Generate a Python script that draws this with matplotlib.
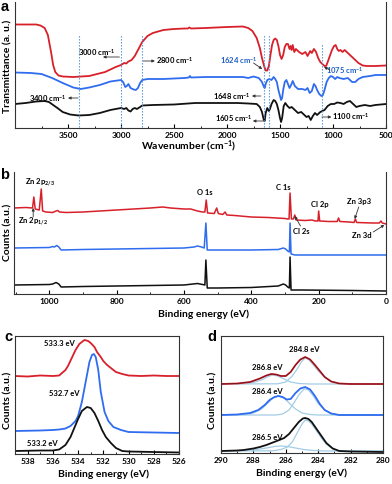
import numpy as np
import matplotlib
matplotlib.use("Agg")
import matplotlib.pyplot as plt
from matplotlib.ticker import MultipleLocator

plt.rcParams['font.family'] = ['Lato', 'DejaVu Sans']
plt.rcParams['font.weight'] = 'bold'
plt.rcParams['mathtext.default'] = 'regular'

# %% colours
RED = '#d8202a'
BLUE = '#2f6cef'
BLACK = '#111111'
DOT = '#4f8fd6'
COMP = '#a3cde5'

# %% (a) FTIR, transmittance in a.u.
ir_wn_red = [4000, 3800, 3760, 3720, 3690, 3660, 3640, 3620, 3590, 3550, 3450, 3300, 3150, 3050,
             3000, 2970, 2950, 2930, 2900, 2870, 2840, 2800, 2750, 2700, 2600, 2500, 2400, 2370,
             2355, 2340, 2200, 2000, 1850, 1800, 1760, 1720, 1690, 1670, 1650, 1635, 1620, 1605,
             1590, 1575, 1560, 1545, 1530, 1515, 1500, 1485, 1470, 1455, 1440, 1425, 1410, 1400,
             1390, 1380, 1365, 1350, 1320, 1290, 1260, 1240, 1215, 1200, 1180, 1160, 1140, 1120,
             1100, 1080, 1065, 1050, 1030, 1010, 990, 975, 960, 945, 930, 910, 890, 870, 840,
             800, 760, 720, 680, 600, 500]
ir_red = [103.5, 103.5, 102.5, 100, 93, 76, 63, 56, 52.5, 51.5, 51, 52, 56, 61,
          63, 65, 64.5, 66.5, 68, 72, 78, 86, 92, 95, 98, 99, 99.5, 99.5,
          100.5, 99.5, 100, 101, 101.5, 100, 97, 90, 80, 70, 62, 57.5, 57.5, 62,
          73, 83, 88, 89.5, 88, 82, 73, 69, 73, 81, 84, 84, 79, 82,
          78, 83, 76, 79, 76, 74, 76, 72, 77, 75, 79, 76, 70, 66,
          64, 62, 62, 66, 72, 78, 82, 83, 79, 77, 78, 76, 78, 76, 73,
          69, 65, 62.5, 62, 62, 62.5]

ir_wn_blue = [4000, 3850, 3750, 3650, 3550, 3450, 3380, 3300, 3200, 3100, 3000, 2980, 2960, 2945,
              2930, 2910, 2880, 2860, 2840, 2820, 2800, 2750, 2600, 2400, 2360, 2350, 2340, 2200,
              2000, 1850, 1800, 1750, 1700, 1670, 1655, 1645, 1635, 1620, 1600, 1580, 1560, 1545,
              1530, 1515, 1500, 1490, 1480, 1470, 1455, 1440, 1425, 1410, 1395, 1380, 1360, 1330,
              1290, 1260, 1240, 1220, 1200, 1180, 1165, 1150, 1130, 1110, 1095, 1080, 1060, 1040,
              1020, 1000, 980, 960, 940, 900, 860, 820, 790, 760, 720, 650, 600, 500]
ir_blue = [55.5, 55, 54, 50, 45, 40.5, 39, 40.5, 43, 46.5, 48, 46, 41, 42,
           44, 40, 38.5, 38, 40, 45, 48, 49, 49, 50, 50.5, 52, 50.5, 51,
           51, 51, 50, 51.5, 50, 46, 42, 40, 44, 48, 49, 48, 51, 49,
           46, 38, 32, 28, 30, 38, 46, 48, 44, 40, 43, 47, 42, 39,
           39, 38, 40, 35, 37, 44, 42, 38, 34, 32, 33, 38, 46, 50,
           52, 51, 49, 51, 50, 49, 50, 46, 46, 49, 51, 52, 53, 53]

ir_wn_black = [4000, 3900, 3800, 3720, 3680, 3640, 3600, 3550, 3480, 3400, 3300, 3200, 3100, 3000,
               2970, 2950, 2930, 2910, 2890, 2870, 2850, 2820, 2800, 2700, 2500, 2300, 2100, 1900,
               1800, 1720, 1690, 1670, 1655, 1645, 1635, 1620, 1605, 1595, 1580, 1560, 1545, 1530,
               1515, 1500, 1490, 1480, 1465, 1450, 1430, 1410, 1390, 1360, 1330, 1300, 1280, 1250,
               1230, 1210, 1190, 1170, 1150, 1120, 1100, 1080, 1050, 1020, 990, 960, 930, 900,
               870, 840, 820, 780, 750, 700, 650, 600, 500]
ir_black = [24, 25, 26.5, 27, 26, 23, 20, 16, 13.5, 12.5, 13, 15, 18, 20,
            19, 20, 17.5, 16.5, 19, 20, 19, 21, 22.5, 23, 23.5, 25, 25, 25,
            24.5, 24, 21, 16, 9, 7, 15, 20, 17, 19, 24, 28, 27, 24,
            18, 10, 6, 10, 22, 25, 22, 20, 21, 18, 15, 16, 14, 11,
            12, 8, 12, 15, 13, 16, 17, 18, 22, 24, 24, 25.5, 25, 24,
            26, 27, 25, 21, 22, 23, 22, 23, 24]

ir_marks = [3400, 3000, 2800, 1648, 1605, 1100]
ir_ticks = [3500, 3000, 2500, 2000, 1500, 1000, 500]

# %% (b) XPS survey
sv_ev_red = [1105, 1070, 1050, 1046, 1042, 1030, 1024, 1020, 1010, 990, 980, 975, 970, 950, 900,
             800, 700, 663, 640, 600, 580, 560, 545, 538, 534, 530, 510, 503, 498, 485, 478,
             473, 450, 400, 350, 300, 292, 288, 285, 281, 275, 271, 267, 240, 220, 210, 202,
             200, 197, 170, 145, 141, 137, 110, 95, 91, 87, 40, 20, 15, 11, 0]
sv_red = [86, 86.5, 86, 97, 85, 84, 105, 83, 82, 81.5, 83, 83.5, 82, 81.5, 82,
          84, 86, 87, 86, 85, 85, 83, 82, 82, 94, 81, 80.5, 86, 80.5, 79.5, 82,
          79, 78.5, 77, 76.5, 75.5, 75, 75, 101, 75, 75, 79, 74, 73.5, 74, 73, 73,
          83, 73, 72.5, 72.5, 76, 72.5, 72, 71.5, 75, 71.5, 71, 71, 73, 71, 70]

sv_ev_blue = [1105, 1000, 990, 985, 978, 972, 965, 900, 800, 700, 600, 570, 560, 548, 540,
              535, 531, 520, 400, 320, 305, 298, 292, 287, 285, 282, 270, 100, 0]
sv_blue = [46, 46.5, 47.5, 47, 48.5, 47, 44, 44.5, 45, 45.5, 46, 47, 48, 47, 46,
           71, 44, 44, 44, 44.5, 46, 45, 43, 42, 71, 40, 39, 39, 39]

sv_ev_black = [1105, 1000, 990, 980, 972, 965, 900, 800, 700, 600, 560, 545, 538, 535, 531,
               500, 400, 320, 305, 298, 292, 287, 285, 282, 250, 100, 0]
sv_black = [9, 9.5, 10, 11.5, 10, 7, 7.5, 8, 8.5, 9, 10.5, 9.5, 9, 34, 6,
            6, 6.5, 8, 10, 9, 7, 6, 37, 4, 4, 3.5, 3]

# %% (c) O 1s
o1s_ev_red = [539, 538, 537, 536, 535.5, 535, 534.8, 534.5, 534.2, 533.9, 533.5, 533.2, 533,
              532.7, 532.5, 532.2, 532, 531.7, 531.4, 531, 530.5, 530, 529, 528, 527, 526]
o1s_red = [78, 77.5, 78.5, 78, 78.5, 84, 88, 96, 104, 110, 114, 113, 111,
           107, 102, 97, 93, 89, 86, 82, 80, 78.5, 78, 78.5, 78, 78]
o1s_ev_blue = [539, 537, 536, 535.5, 535, 534.6, 534.2, 534, 533.7, 533.4, 533.1, 532.9, 532.75,
               532.6, 532.4, 532.2, 531.9, 531.6, 531.2, 530.6, 530, 528, 526]
o1s_blue = [23, 23.5, 24, 24.5, 25.5, 28, 33, 38, 52, 72, 92, 99, 100,
            97, 84, 62, 42, 33, 27, 24, 22, 21.5, 21]
o1s_ev_black = [539, 537, 536, 535.5, 535, 534.6, 534.3, 534, 533.7, 533.3, 533, 532.7, 532.4,
                532.1, 531.8, 531.4, 531, 530.5, 530, 528, 526]
o1s_black = [3, 3.5, 3.5, 4.5, 9, 17, 26, 35, 43, 47, 46, 41, 33,
             24, 17, 11, 6, 3, 2.5, 2, 1.5]

# %% (d) C 1s, envelopes and fitted components
c1s_ev_red = [290, 289, 288.2, 287.6, 287.2, 286.9, 286.6, 286.3, 286.0, 285.7, 285.4, 285.1,
              284.8, 284.5, 284.2, 283.9, 283.6, 283.2, 282.7, 282, 280]
c1s_red = [69, 69.5, 71, 74.5, 77.5, 79, 78.5, 77, 77, 81, 88, 93.5,
           96, 93.5, 88, 82, 76, 71.5, 69.5, 69, 69]
c1s_ev_red_c1 = [290, 288.5, 288, 287.5, 287.1, 286.8, 286.5, 286.1, 285.7, 285.2, 284.5, 280]
c1s_red_c1 = [69, 69.5, 70.5, 73, 76.5, 78, 77, 74, 71, 69.5, 69, 69]
c1s_ev_red_c2 = [290, 286.5, 286.0, 285.6, 285.3, 285.0, 284.8, 284.6, 284.3, 284.0, 283.6,
                 283.2, 282.7, 282, 280]
c1s_red_c2 = [69, 69.2, 71, 77, 84, 92, 95, 93.5, 88, 82, 76, 71.5, 69.5, 69, 69]

c1s_ev_blue = [290, 289, 288.2, 287.7, 287.3, 287.0, 286.7, 286.45, 286.2, 285.95, 285.7, 285.4,
               285.1, 284.8, 284.5, 284.2, 283.9, 283.6, 283.2, 282.7, 280]
c1s_blue = [38, 38.5, 40, 43, 48, 53, 56, 57, 56, 53.5, 54, 60,
            64.5, 66, 63.5, 57, 49, 43, 39.5, 38, 38]
c1s_ev_blue_c1 = [290, 288.5, 288, 287.5, 287.1, 286.8, 286.45, 286.1, 285.8, 285.4, 285.0,
                  284.5, 284, 280]
c1s_blue_c1 = [38, 38.5, 40, 44, 50, 55, 57, 55, 50, 44, 40, 38.5, 38, 38]
c1s_ev_blue_c2 = [290, 286.6, 286.2, 285.8, 285.5, 285.2, 284.9, 284.8, 284.6, 284.3, 284.0,
                  283.6, 283.2, 282.7, 280]
c1s_blue_c2 = [38, 38, 39, 43, 50, 58, 63.5, 64, 63, 57, 49.5, 43, 39.5, 38, 38]

c1s_ev_black = [290, 289, 288.6, 288, 287.6, 287.2, 286.8, 286.4, 286.1, 285.8, 285.5, 285.2,
                284.95, 284.8, 284.6, 284.4, 284.1, 283.8, 283.5, 283.1, 282.7, 282, 280]
c1s_black = [2, 2.5, 3, 4.5, 6, 8, 10.5, 13, 15, 19, 25, 31,
             34.5, 35, 34, 31, 24, 17, 10, 4.5, 2, 1.5, 1]
c1s_ev_black_c1 = [290, 288.5, 287.8, 287.2, 286.7, 286.3, 285.9, 285.4, 284.9, 284.3, 283.5, 280]
c1s_black_c1 = [2, 2.5, 3.5, 5, 6.5, 7, 6.5, 5, 3.5, 2.5, 2, 2]
c1s_ev_black_c2 = [290, 286.8, 286.3, 285.9, 285.6, 285.3, 285.0, 284.8, 284.6, 284.4, 284.1,
                   283.8, 283.5, 283.1, 282.7, 282, 280]
c1s_black_c2 = [2, 2.2, 3.5, 6, 11, 20, 29, 33, 32, 29, 22, 15, 9, 4, 2.3, 2, 2]

# %% figure
W, H = 392, 484
fig = plt.figure(figsize=(W / 100, H / 100), dpi=100)


def box(l, t, r, b):
    # pixel box -> figure fraction
    return [l / W, 1 - b / H, (r - l) / W, (b - t) / H]


def ftext(x, y, s, **kw):
    fig.text(x / W, 1 - y / H, s, ha='center', va='center', **kw)


def style(ax, major, minor, top=True):
    ax.set_yticks([])
    ax.xaxis.set_major_locator(MultipleLocator(major))
    ax.xaxis.set_minor_locator(MultipleLocator(minor))
    ax.tick_params(axis='x', which='major', direction='in', length=3, width=0.8,
                   labelsize=6, pad=3)
    ax.tick_params(axis='x', which='minor', direction='in', length=1.8, width=0.6)
    for s in ax.spines.values():
        s.set_linewidth(0.8)
        s.set_color('#333333')
    ax.spines['top'].set_visible(top)


LW = 1.3
ann = dict(fontsize=5.5, fontweight='bold')
arr = dict(arrowstyle='-|>', color='#333333', lw=0.6, mutation_scale=4,
           shrinkA=0, shrinkB=0)

# %% (a)
ax_a = fig.add_axes(box(15, 2, 386, 128))
ax_a.plot(ir_wn_red, ir_red, color=RED, lw=LW)
ax_a.plot(ir_wn_blue, ir_blue, color=BLUE, lw=LW)
ax_a.plot(ir_wn_black, ir_black, color=BLACK, lw=LW)
for wn in ir_marks:
    top = 85 if wn == 1100 else 94
    ax_a.plot([wn, wn], [1, top], color=DOT, lw=0.8, ls=(0, (1.2, 1.5)))
style(ax_a, 500, 250, top=False)
ax_a.set_xticks(ir_ticks)
ax_a.set_xlim(4000, 500)
ax_a.set_ylim(0, 126)

ax_a.text(3227, 76, '3000 cm$^{-1}$', ha='center', va='center', **ann)
ax_a.annotate('', xy=(3170, 71), xytext=(3015, 71), arrowprops=arr)
ax_a.text(2671, 67, '2800 cm$^{-1}$', ha='left', va='center', **ann)
ax_a.annotate('', xy=(2680, 67), xytext=(2790, 67), arrowprops=arr)
ax_a.text(3694, 30, '3400 cm$^{-1}$', ha='center', va='center', **ann)
ax_a.annotate('', xy=(3500, 30), xytext=(3405, 30), arrowprops=arr)
ax_a.text(1893, 67, '1624 cm$^{-1}$', ha='center', va='center', color='#1f5fc4', **ann)
ax_a.annotate('', xy=(1668, 59), xytext=(1750, 65), arrowprops=arr)
ax_a.text(889, 57, '1075 cm$^{-1}$', ha='center', va='center', color='#1f5fc4', **ann)
ax_a.annotate('', xy=(1085, 61), xytext=(1030, 58), arrowprops=arr)
ax_a.text(1954, 32, '1648 cm$^{-1}$', ha='center', va='center', **ann)
ax_a.annotate('', xy=(1765, 32), xytext=(1681, 32), arrowprops=arr)
ax_a.text(1935, 9, '1605 cm$^{-1}$', ha='center', va='center', **ann)
ax_a.annotate('', xy=(1756, 7), xytext=(1650, 7), arrowprops=arr)
ax_a.text(1011, 11, '1100 cm$^{-1}$', ha='left', va='center', **ann)
ax_a.annotate('', xy=(1015, 11), xytext=(1105, 11), arrowprops=arr)

# %% (b)
ax_b = fig.add_axes(box(14, 172, 386, 294))
ax_b.plot(sv_ev_red, sv_red, color=RED, lw=1.1)
ax_b.plot(sv_ev_blue, sv_blue, color=BLUE, lw=1.1)
ax_b.plot(sv_ev_black, sv_black, color=BLACK, lw=1.1)
ax_b.set_xlim(1105, 0)
ax_b.set_ylim(0, 122)
style(ax_b, 200, 100, top=False)

ax_b.text(1027, 111, 'Zn 2p$_{2/3}$', ha='center', va='center', **ann)
ax_b.text(1047, 72, 'Zn 2p$_{1/2}$', ha='center', va='center', **ann)
ax_b.annotate('', xy=(1048, 86), xytext=(1048, 77), arrowprops=arr)
ax_b.text(537, 101, 'O 1s', ha='center', va='center', **ann)
ax_b.text(304, 106, 'C 1s', ha='center', va='center', **ann)
ax_b.text(197, 89, 'Cl 2p', ha='center', va='center', **ann)
ax_b.text(251, 62, 'Cl 2s', ha='center', va='center', **ann)
ax_b.annotate('', xy=(271, 78), xytext=(254, 68), arrowprops=arr)
ax_b.text(81, 92, 'Zn 3p3', ha='center', va='center', **ann)
ax_b.annotate('', xy=(93, 75), xytext=(81, 87), arrowprops=arr)
ax_b.text(72, 58, 'Zn 3d', ha='center', va='center', **ann)
ax_b.annotate('', xy=(5, 69), xytext=(38, 62), arrowprops=arr)

# %% (c)
ax_c = fig.add_axes(box(15, 336, 179, 454))
ax_c.plot(o1s_ev_red, o1s_red, color=RED, lw=LW)
ax_c.plot(o1s_ev_blue, o1s_blue, color=BLUE, lw=LW)
ax_c.plot(o1s_ev_black, o1s_black, color=BLACK, lw=LW)
ax_c.set_xlim(539, 526)
ax_c.set_ylim(0, 118)
style(ax_c, 2, 1)
ax_c.text(535.45, 110, '533.3 eV', ha='center', va='center', **ann)
ax_c.text(535.1, 61, '532.7 eV', ha='center', va='center', **ann)
ax_c.text(536.8, 11, '533.2 eV', ha='center', va='center', **ann)

# %% (d)
ax_d = fig.add_axes(box(221, 336, 383, 453))
for ev, y in [(c1s_ev_red_c1, c1s_red_c1), (c1s_ev_red_c2, c1s_red_c2),
              (c1s_ev_blue_c1, c1s_blue_c1), (c1s_ev_blue_c2, c1s_blue_c2),
              (c1s_ev_black_c1, c1s_black_c1), (c1s_ev_black_c2, c1s_black_c2)]:
    ax_d.plot(ev, y, color=COMP, lw=0.9)
ax_d.plot(c1s_ev_red, c1s_red, color=RED, lw=LW)
ax_d.plot(c1s_ev_red, c1s_red, color='#4a1418', lw=0.6, alpha=0.8)
ax_d.plot(c1s_ev_blue, c1s_blue, color=BLUE, lw=LW)
ax_d.plot(c1s_ev_black, c1s_black, color=BLACK, lw=LW)
ax_d.set_xlim(290, 280)
ax_d.set_ylim(0, 117)
style(ax_d, 2, 1)
ax_d.text(284.88, 103, '284.8 eV', ha='center', va='center', **ann)
ax_d.text(287.16, 85, '286.8 eV', ha='center', va='center', **ann)
ax_d.text(287.16, 62, '286.4 eV', ha='center', va='center', **ann)
ax_d.text(287.13, 16, '286.5 eV', ha='center', va='center', **ann)

# %% axis titles and panel letters
lab = dict(fontsize=7.5, fontweight='bold')
ftext(189, 146, 'Wavenumber (cm$^{-1}$)', **lab)
ftext(8, 66, 'Transmittance (a. u.)', rotation=90, **lab)
ftext(204, 314, 'Binding energy (eV)', **lab)
ftext(8, 232, 'Counts (a.u.)', rotation=90, **lab)
ftext(104, 474, 'Binding energy (eV)', **lab)
ftext(8, 400, 'Counts (a.u.)', rotation=90, **lab)
ftext(302, 473, 'Binding energy (eV)', **lab)
ftext(213, 400, 'Counts (a.u.)', rotation=90, **lab)

let = dict(fontsize=10.5, fontweight='bold', family='Liberation Sans')
ftext(5, 7, 'a', **let)
ftext(5, 175, 'b', **let)
ftext(8, 337, 'c', **let)
ftext(212, 337, 'd', **let)

fig.savefig('out.png', dpi=100)
